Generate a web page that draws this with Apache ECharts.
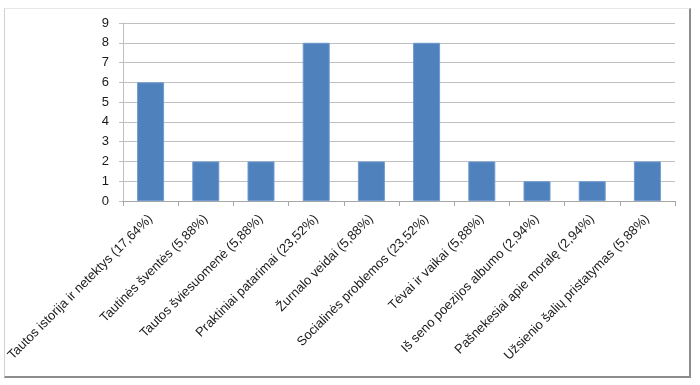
<!DOCTYPE html>
<html><head><meta charset="utf-8">
<script src="https://cdn.jsdelivr.net/npm/echarts@6/dist/echarts.min.js"></script>
<style>
html,body{margin:0;padding:0;background:#fff;}
#frame{position:absolute;left:4px;top:8px;width:684px;height:367px;border-left:1px solid #d0d0d0;border-top:1px solid #e8e8e8;border-right:2px solid #8c8c8c;border-bottom:2px solid #8c8c8c;}
#c{position:absolute;left:0;top:0;width:700px;height:385px;}
</style></head>
<body><div id="frame"></div><div id="c"></div>
<script>
const categories = ["Tautos istorija ir netektys (17,64%)","Tautinės šventės (5,88%)","Tautos šviesuomenė (5,88%)","Praktiniai patarimai (23,52%)","Žurnalo veidai (5,88%)","Socialinės problemos (23,52%)","Tėvai ir vaikai (5,88%)","Iš seno poezijos albumo (2,94%)","Pašnekesiai apie moralę (2,94%)","Užsienio šalių pristatymas (5,88%)"];
const values = [6,2,2,8,2,8,2,1,1,2];
const chart = echarts.init(document.getElementById('c'));
chart.setOption({
  animation:false,
  grid:{left:123,right:25,top:23,bottom:184,containLabel:false},
  xAxis:{type:'category',data:categories,
    axisLine:{lineStyle:{color:'#a6a6a6'}},
    axisTick:{show:true,alignWithLabel:false,length:5,lineStyle:{color:'#a6a6a6'}},
    axisLabel:{rotate:45,interval:0,color:'#1a1a1a',fontFamily:'Liberation Sans',fontSize:13,margin:16}},
  yAxis:{type:'value',min:0,max:9,interval:1,
    axisLine:{show:true,lineStyle:{color:'#bfbfbf'}},
    axisTick:{show:true,length:4,lineStyle:{color:'#bfbfbf'}},
    splitLine:{lineStyle:{color:'#c0c0c0'}},
    axisLabel:{color:'#1a1a1a',fontFamily:'Liberation Sans',fontSize:13,margin:14}},
  series:[{type:'bar',data:values,barWidth:27,
    itemStyle:{color:'#4f81bd',borderColor:'#6f9bd0',borderWidth:1}}]
});
</script></body></html>
